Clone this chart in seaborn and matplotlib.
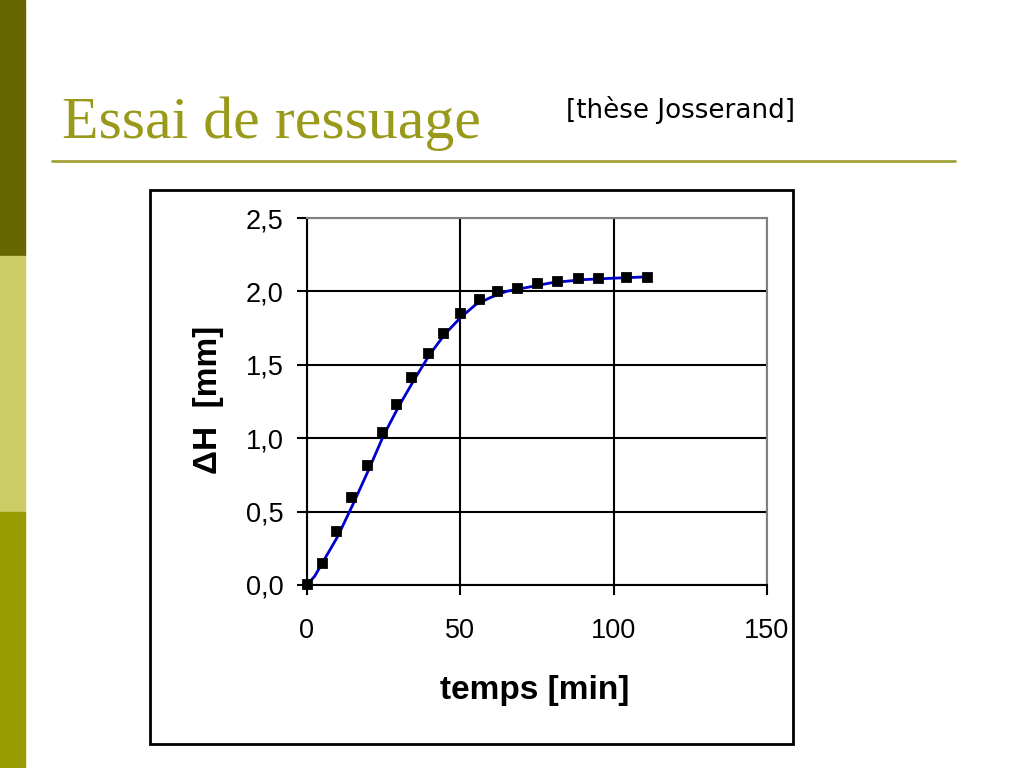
import matplotlib
matplotlib.use("Agg")
import matplotlib.pyplot as plt
import seaborn as sns
import pandas as pd
from matplotlib.patches import Rectangle
from matplotlib.lines import Line2D

# data points (measured)
t_points = [0, 5, 9.5, 14.5, 19.5, 24.5, 29, 34, 39.5, 44.5, 50, 56, 62, 68.5, 75, 81.5, 88.5, 95, 104, 111]
dh_points = [0.01, 0.15, 0.37, 0.60, 0.82, 1.04, 1.23, 1.42, 1.58, 1.72, 1.85, 1.95, 2.00, 2.02, 2.06, 2.07, 2.09, 2.09, 2.10, 2.10]

# fitted curve
t_curve = [0, 2.5, 5, 7.5, 10, 15, 20, 25, 30, 35, 40, 45, 50, 55, 60, 65, 70, 80, 90, 100, 112]
dh_curve = [0.0, 0.06, 0.15, 0.24, 0.33, 0.55, 0.78, 1.02, 1.22, 1.40, 1.57, 1.71, 1.82, 1.91, 1.96, 2.00, 2.02, 2.06, 2.08, 2.09, 2.10]

x_ticks = [0, 50, 100, 150]
y_ticks = [0.0, 0.5, 1.0, 1.5, 2.0, 2.5]
y_ticklabels = ["0,0", "0,5", "1,0", "1,5", "2,0", "2,5"]

title_text = "Essai de ressuage"
source_text = "[thèse Josserand]"
x_label = "temps [min]"
y_label = "ΔH  [mm]"

sns.set_theme(style="white")
plt.rcParams["font.family"] = ["Liberation Sans", "DejaVu Sans"]

fig = plt.figure(figsize=(10.24, 7.68), dpi=100)
fig.patch.set_facecolor("white")

W, H = 1024.0, 768.0
def fx(px): return px / W
def fy(py): return 1 - py / H

# left decorative bars
fig.patches.append(Rectangle((0, fy(256)), fx(25), 256 / H, transform=fig.transFigure, color="#666600", zorder=0))
fig.patches.append(Rectangle((0, fy(512)), fx(25), 256 / H, transform=fig.transFigure, color="#CCCC66", zorder=0))
fig.patches.append(Rectangle((0, fy(768)), fx(25), 256 / H, transform=fig.transFigure, color="#999900", zorder=0))

# title and underline
fig.text(fx(62), fy(138), title_text, fontsize=43, family="Liberation Serif", color="#99991A", ha="left", va="baseline")
fig.text(fx(566), fy(118), source_text, fontsize=18.8, family="DejaVu Sans", color="black", ha="left", va="baseline")
fig.lines.append(Line2D([fx(52), fx(955)], [fy(161), fy(161)], transform=fig.transFigure, color="#A3A33A", lw=2))

# chart frame
fig.patches.append(Rectangle((fx(150), fy(744)), 643 / W, 554 / H, transform=fig.transFigure,
                             fill=False, edgecolor="black", lw=2, zorder=1))

ax = fig.add_axes([fx(307), fy(585), 460 / W, 367 / H])
df_c = pd.DataFrame({"t": t_curve, "dh": dh_curve})
df_p = pd.DataFrame({"t": t_points, "dh": dh_points})
sns.lineplot(data=df_c, x="t", y="dh", ax=ax, color="#0000CC", lw=2, zorder=3)
sns.scatterplot(data=df_p, x="t", y="dh", ax=ax, marker="s", s=50, color="black", edgecolor="black", zorder=4, clip_on=False)

ax.set_xlim(0, 150)
ax.set_ylim(0, 2.5)
ax.set_xticks(x_ticks)
ax.set_xticklabels([str(v) for v in x_ticks], fontsize=19.5)
ax.set_yticks(y_ticks)
ax.set_yticklabels(y_ticklabels, fontsize=19.5)
ax.grid(True, color="black", lw=1.5)
ax.set_axisbelow(True)
for s in ["top", "right"]:
    ax.spines[s].set_color("#808080")
    ax.spines[s].set_linewidth(1.5)
for s in ["left", "bottom"]:
    ax.spines[s].set_color("black")
    ax.spines[s].set_linewidth(1.5)
ax.tick_params(axis="both", which="both", direction="out", length=7, width=1.5, color="black",
               bottom=True, left=True, labelcolor="black")
ax.tick_params(axis="y", pad=10)
ax.tick_params(axis="x", pad=17)
ax.set_xlabel(x_label, fontsize=24, fontweight="bold", color="black")
ax.set_ylabel(y_label, fontsize=24, fontweight="bold", color="black")
ax.xaxis.set_label_coords((535 - 307) / 460, (585 - 690) / 367)
ax.xaxis.label.set_va("center")
ax.yaxis.set_label_coords((209 - 307) / 460, (585 - 400) / 367)
ax.yaxis.label.set_va("center")

fig.savefig("out.png", dpi=100, facecolor="white")
